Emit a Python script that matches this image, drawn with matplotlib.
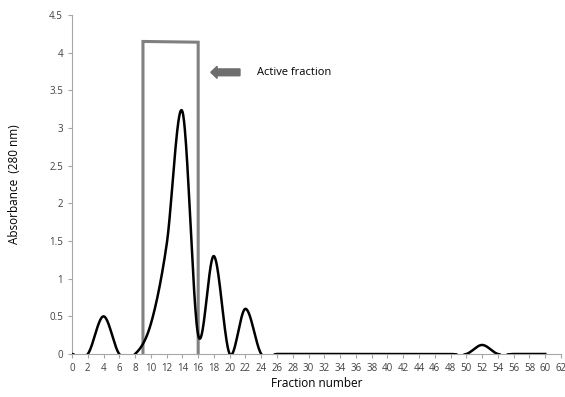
import matplotlib.pyplot as plt
from matplotlib.patches import FancyArrow
import numpy as np

# absorbance readings, every second fraction
fractions = [0, 2, 4, 6, 8, 10, 12, 14, 16, 18, 20, 22, 24, 26, 28, 30, 32, 34, 36, 38,
             40, 42, 44, 46, 48, 50, 52, 54, 56, 58, 60]
absorbance = [0, 0, 0.5, 0, 0, 0.4, 1.45, 3.22, 0.25, 1.3, 0, 0.6, 0, 0, 0, 0, 0, 0, 0, 0,
              0, 0, 0, 0, 0, 0, 0.12, 0, 0, 0, 0]

# active fraction window
box_x = [9, 9, 16, 16]
box_y = [0, 4.15, 4.14, 0]


def smooth(x, y, n=40):
    # catmull-rom, like excel's smoothed line
    x = np.asarray(x, float)
    y = np.asarray(y, float)
    px = np.concatenate([[x[0]], x, [x[-1]]])
    py = np.concatenate([[y[0]], y, [y[-1]]])
    xs, ys = [], []
    for i in range(1, len(px) - 2):
        t = np.linspace(0, 1, n)
        for p, out in ((px, xs), (py, ys)):
            p0, p1, p2, p3 = p[i - 1], p[i], p[i + 1], p[i + 2]
            out.append(0.5 * (2 * p1 + (-p0 + p2) * t
                              + (2 * p0 - 5 * p1 + 4 * p2 - p3) * t ** 2
                              + (-p0 + 3 * p1 - 3 * p2 + p3) * t ** 3))
    return np.concatenate(xs), np.concatenate(ys)


fig = plt.figure(figsize=(5.65, 3.97), dpi=100)
ax = fig.add_axes([0.1274, 0.1083, 0.8655, 0.8537])

sx, sy = smooth(fractions, absorbance)
sy = np.where(sy < -0.005, np.nan, sy)
ax.plot(sx, sy, color='black', lw=1.8, zorder=3)

ax.plot(box_x, box_y, color='#808080', lw=2.2, zorder=2, solid_joinstyle='miter')

ax.add_patch(FancyArrow(21.3, 3.74, -3.7, 0, width=0.09, head_width=0.16,
                        head_length=0.8, length_includes_head=True,
                        color='#6e6e6e', zorder=4))
ax.text(23.4, 3.74, 'Active fraction', fontsize=8, va='center', ha='left',
        family='Open Sans')

ax.set_xlim(0, 62)
ax.set_ylim(0, 4.5)
ax.set_xticks(range(0, 63, 2))
ax.set_yticks(np.arange(0, 4.51, 0.5))
ax.set_yticklabels(['0', '0.5', '1', '1.5', '2', '2.5', '3', '3.5', '4', '4.5'])

for s in ['top', 'right']:
    ax.spines[s].set_visible(False)
for s in ['left', 'bottom']:
    ax.spines[s].set_color('#a6a6a6')
    ax.spines[s].set_linewidth(0.8)
ax.tick_params(colors='#a6a6a6', labelcolor='#404040', labelsize=7, length=3, width=0.8)
for lab in ax.get_xticklabels() + ax.get_yticklabels():
    lab.set_family('Open Sans')

ax.set_xlabel('Fraction number', fontsize=8.5, family='Open Sans')
ax.set_ylabel('Absorbance  (280 nm)', fontsize=8.5, family='Open Sans')
ax.xaxis.set_label_coords(0.5, -0.068)
ax.yaxis.set_label_coords(-0.105, 0.5)

fig.savefig('out.png', dpi=100)
